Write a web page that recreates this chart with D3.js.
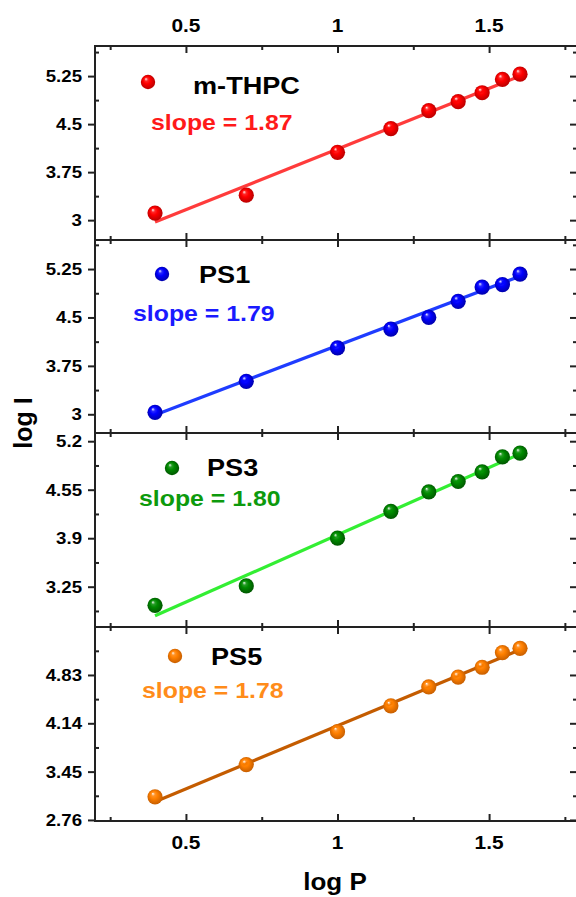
<!DOCTYPE html>
<html>
<head>
<meta charset="utf-8">
<script src="https://cdn.jsdelivr.net/npm/d3@7"></script>
<style>
  html, body { margin: 0; padding: 0; background: #fff; }
  svg { display: block; }
</style>
</head>
<body>
<svg id="chart" width="576" height="897"></svg>
<script>
// ---------------- DATA ----------------
const logP = [0.398, 0.699, 1.0, 1.176, 1.301, 1.398, 1.477, 1.544, 1.602];
const seriesNames = ["m-THPC", "PS1", "PS3", "PS5"];
const slopeLabels = ["slope = 1.87", "slope = 1.79", "slope = 1.80", "slope = 1.78"];
const logI_mTHPC = [3.11, 3.39, 4.06, 4.43, 4.71, 4.85, 4.99, 5.20, 5.28];
const logI_PS1   = [3.03, 3.51, 4.03, 4.32, 4.50, 4.75, 4.97, 5.01, 5.17];
const logI_PS3   = [3.00, 3.26, 3.90, 4.26, 4.52, 4.66, 4.79, 4.99, 5.04];
const logI_PS5   = [3.09, 3.55, 4.02, 4.39, 4.66, 4.80, 4.94, 5.15, 5.21];
// fitted line end points [x, y]
const fit_mTHPC = [[0.398, 2.97], [1.602, 5.25]];
const fit_PS1   = [[0.398, 2.99], [1.602, 5.14]];
const fit_PS3   = [[0.398, 2.86], [1.602, 5.03]];
const fit_PS5   = [[0.398, 3.02], [1.602, 5.19]];
// axis ticks
const xTicks = [0.5, 1, 1.5];
const xMinorTicks = [0.25, 0.75, 1.25, 1.75];
const xDomain = [0.2, 1.79];
const yTicks_mTHPC = [3, 3.75, 4.5, 5.25];
const yTicks_PS1   = [3, 3.75, 4.5, 5.25];
const yTicks_PS3   = [3.25, 3.9, 4.55, 5.2];
const yTicks_PS5   = [2.76, 3.45, 4.14, 4.83];
const yMinor_mTHPC = [3.375, 4.125, 4.875, 5.625];
const yMinor_PS1   = [3.375, 4.125, 4.875, 5.625];
const yMinor_PS3   = [2.925, 3.575, 4.225, 4.875];
const yMinor_PS5   = [3.105, 3.795, 4.485, 5.175];
const yDomain_mTHPC = [2.69, 5.72];
const yDomain_PS1   = [2.71, 5.70];
const yDomain_PS3   = [2.71, 5.31];
const yDomain_PS5   = [2.745, 5.515];
const xLabel = "log P";
const yLabel = "log I";

// ---------------- STYLE / LAYOUT ----------------
const markerColors = ["#ff0000", "#0000ff", "#008a00", "#ff8000"];
const markerDark   = ["#b00000", "#0000a0", "#005000", "#c05a00"];
const lineColors   = ["#ff3b3b", "#1f3cff", "#33ee33", "#c45c00"];
const slopeColors  = ["#ff1a1a", "#1a1aff", "#0d9a0d", "#ff8c1a"];
const panelEdges = [46, 240, 433, 627, 821];
// legend layout (pixels): marker cx, cy, name x, name baseline, slope x, slope baseline
const legendLayout = [
  {mx: 148, my: 82,  nx: 193, ny: 94,  sx: 151, sy: 130},
  {mx: 162, my: 274, nx: 199, ny: 283, sx: 133, sy: 321},
  {mx: 172, my: 468, nx: 207, ny: 476, sx: 139, sy: 506},
  {mx: 175, my: 656, nx: 211, ny: 665, sx: 142, sy: 698}
];
const FONT = "'Liberation Sans', Arial, Helvetica, sans-serif";
const SX = 1.13; // horizontal text stretch seen in the reference

const panels = [
  {values: logI_mTHPC, fit: fit_mTHPC, ticks: yTicks_mTHPC, minor: yMinor_mTHPC, domain: yDomain_mTHPC},
  {values: logI_PS1,   fit: fit_PS1,   ticks: yTicks_PS1,   minor: yMinor_PS1,   domain: yDomain_PS1},
  {values: logI_PS3,   fit: fit_PS3,   ticks: yTicks_PS3,   minor: yMinor_PS3,   domain: yDomain_PS3},
  {values: logI_PS5,   fit: fit_PS5,   ticks: yTicks_PS5,   minor: yMinor_PS5,   domain: yDomain_PS5}
];

const svg = d3.select("#chart");
const L = 95, R = 577;
const x = d3.scaleLinear().domain(xDomain).range([L, R]);

function txt(g, px, py, s, size, anchor, fill) {
  return g.append("text")
    .attr("transform", `translate(${px},${py}) scale(${SX},1)`)
    .attr("font-family", FONT).attr("font-weight", "bold")
    .attr("font-size", size).attr("text-anchor", anchor || "start")
    .attr("fill", fill || "#000").text(s);
}

// gradients for sphere markers
const defs = svg.append("defs");
markerColors.forEach((c, i) => {
  const g = defs.append("radialGradient").attr("id", "ball" + i)
    .attr("cx", "50%").attr("cy", "50%").attr("r", "55%")
    .attr("fx", "35%").attr("fy", "28%");
  g.append("stop").attr("offset", "0%").attr("stop-color", "#ffffff");
  g.append("stop").attr("offset", "22%").attr("stop-color", c).attr("stop-opacity", 0.85);
  g.append("stop").attr("offset", "45%").attr("stop-color", c);
  g.append("stop").attr("offset", "100%").attr("stop-color", markerDark[i]);
});

function styleAxis(sel) {
  sel.select(".domain").remove();
  sel.selectAll(".tick line").attr("stroke", "#222").attr("stroke-width", 2);
  sel.selectAll(".tick text").remove();
}

panels.forEach((p, i) => {
  const top = panelEdges[i], bot = panelEdges[i + 1];
  const y = d3.scaleLinear().domain(p.domain).range([bot, top]);
  const g = svg.append("g");

  // ticks
  g.append("g").attr("transform", `translate(${L},0)`)
    .call(d3.axisLeft(y).tickValues(p.ticks).tickSize(7).tickFormat("")).call(styleAxis);
  g.append("g").attr("transform", `translate(${L},0)`)
    .call(d3.axisLeft(y).tickValues(p.minor).tickSize(-4).tickFormat("")).call(styleAxis);
  g.append("g").attr("transform", `translate(${R},0)`)
    .call(d3.axisRight(y).tickValues(p.ticks).tickSize(-7).tickFormat("")).call(styleAxis);
  g.append("g").attr("transform", `translate(${R},0)`)
    .call(d3.axisRight(y).tickValues(p.minor).tickSize(-4).tickFormat("")).call(styleAxis);
  g.append("g").attr("transform", `translate(0,${top})`)
    .call(d3.axisTop(x).tickValues(xTicks).tickSize(-7).tickFormat("")).call(styleAxis);
  g.append("g").attr("transform", `translate(0,${top})`)
    .call(d3.axisTop(x).tickValues(xMinorTicks).tickSize(-4).tickFormat("")).call(styleAxis);
  g.append("g").attr("transform", `translate(0,${bot})`)
    .call(d3.axisBottom(x).tickValues(xTicks).tickSize(-7).tickFormat("")).call(styleAxis);
  g.append("g").attr("transform", `translate(0,${bot})`)
    .call(d3.axisBottom(x).tickValues(xMinorTicks).tickSize(-4).tickFormat("")).call(styleAxis);

  // frame
  g.append("rect").attr("x", L).attr("y", top).attr("width", R - L).attr("height", bot - top)
    .attr("fill", "none").attr("stroke", "#222").attr("stroke-width", 2);

  // y tick labels
  p.ticks.forEach(t => txt(g, 82, y(t) + 6, String(t), 16.5, "end"));

  // fit line
  g.append("path").datum(p.fit)
    .attr("d", d3.line().x(d => x(d[0])).y(d => y(d[1])))
    .attr("fill", "none").attr("stroke", lineColors[i]).attr("stroke-width", 3.2);

  // markers
  g.selectAll("circle.pt").data(p.values).enter().append("circle")
    .attr("class", "pt")
    .attr("cx", (d, j) => x(logP[j])).attr("cy", d => y(d)).attr("r", 7.6)
    .attr("fill", `url(#ball${i})`);

  // legend
  const lg = legendLayout[i];
  g.append("circle").attr("cx", lg.mx).attr("cy", lg.my).attr("r", 7.2).attr("fill", `url(#ball${i})`);
  txt(g, lg.nx, lg.ny, seriesNames[i], 24, "start", "#000");
  txt(g, lg.sx, lg.sy, slopeLabels[i], 22, "start", slopeColors[i]);
});

// top & bottom x tick labels
const gl = svg.append("g");
xTicks.forEach(t => {
  txt(gl, x(t), 32, String(t), 18.5, "middle");
  txt(gl, x(t), 849, String(t), 18.5, "middle");
});

// axis titles
txt(gl, 335, 890, xLabel, 23, "middle");
gl.append("text")
  .attr("transform", "translate(32,423) rotate(-90)")
  .attr("font-family", FONT).attr("font-weight", "bold").attr("font-size", 25)
  .attr("text-anchor", "middle").attr("fill", "#000").text(yLabel);
</script>
</body>
</html>
